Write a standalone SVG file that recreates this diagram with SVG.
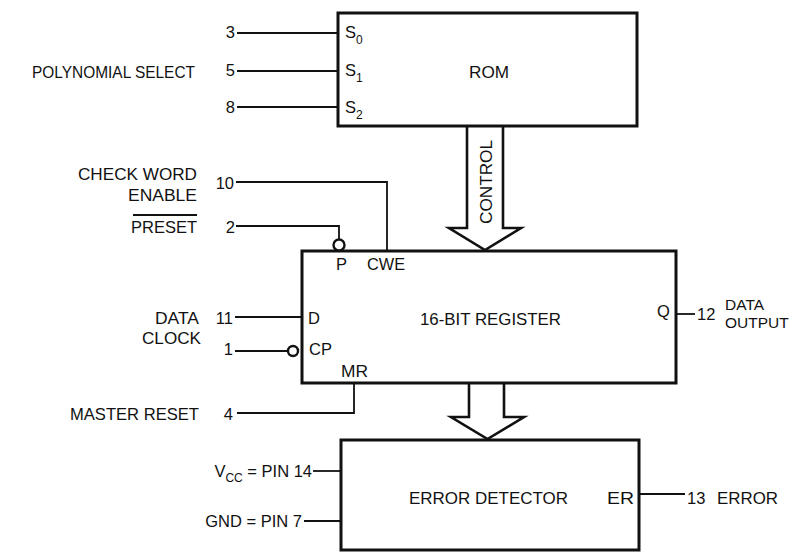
<svg xmlns="http://www.w3.org/2000/svg" width="798" height="552" viewBox="0 0 798 552">
<style>
text{font-family:"Liberation Sans",Arial,Helvetica,sans-serif;font-size:16.5px;fill:#111}
.box{fill:#fff;stroke:#111;stroke-width:3}
.w{fill:none;stroke:#111;stroke-width:1.8}
.bus{fill:#fff;stroke:#111;stroke-width:2.6;stroke-linejoin:miter}
.bub{fill:#fff;stroke:#111;stroke-width:2.4}
.sub{font-size:12px}
.sm{font-size:15.5px}
.e{text-anchor:end}
.m{text-anchor:middle}
</style>
<rect width="798" height="552" fill="#fff"/>

<g id="connectors">
  <path class="w" d="M237 33H338M237 71H338M237 107H338"/>
  <path class="w" d="M236 182H387V251"/>
  <path class="w" d="M236 226H339V239.5"/>
  <path class="w" d="M235 317H302"/>
  <path class="w" d="M235 351H288"/>
  <path class="w" d="M354 383V413H237"/>
  <path class="w" d="M677 314H695"/>
  <path class="w" d="M313 471H341"/>
  <path class="w" d="M304 521H341"/>
  <path class="w" d="M639 494H685"/>
  <path id="control-bus" class="bus" d="M467 126V228H449L485 250L521 228H503V126"/>
  <text transform="translate(492,182) rotate(-90)" class="m" textLength="84" lengthAdjust="spacingAndGlyphs">CONTROL</text>
  <path id="data-bus" class="bus" d="M469 383V417H451L487.5 439L524 417H504V383"/>
</g>

<g id="rom">
  <rect class="box" x="338" y="13" width="299" height="113"/>
  <text x="345" y="38">S<tspan class="sub" dy="6">0</tspan></text>
  <text x="345" y="76">S<tspan class="sub" dy="6">1</tspan></text>
  <text x="345" y="113">S<tspan class="sub" dy="6">2</tspan></text>
  <text x="489" y="78" class="m" textLength="40" lengthAdjust="spacingAndGlyphs">ROM</text>
</g>

<g id="register">
  <rect class="box" x="302" y="251" width="374" height="132"/>
  <circle class="bub" cx="339" cy="245" r="5.5"/>
  <circle class="bub" cx="293" cy="351" r="5"/>
  <text x="336" y="270">P</text>
  <text x="367" y="270" textLength="38" lengthAdjust="spacingAndGlyphs">CWE</text>
  <text x="308" y="324">D</text>
  <text x="309" y="355">CP</text>
  <text x="341" y="377" textLength="27" lengthAdjust="spacingAndGlyphs">MR</text>
  <text x="420" y="325" textLength="141" lengthAdjust="spacingAndGlyphs">16-BIT REGISTER</text>
  <text x="657" y="317">Q</text>
</g>

<g id="error-detector">
  <rect class="box" x="341" y="440" width="298" height="110"/>
  <text x="409" y="504" textLength="159" lengthAdjust="spacingAndGlyphs">ERROR DETECTOR</text>
  <text x="607" y="504" textLength="27" lengthAdjust="spacingAndGlyphs">ER</text>
</g>

<g id="pin-labels">
  <text x="235" y="38" class="e">3</text>
  <text x="235" y="76" class="e">5</text>
  <text x="235" y="113" class="e">8</text>
  <text x="195" y="78" class="e" textLength="163" lengthAdjust="spacingAndGlyphs">POLYNOMIAL SELECT</text>

  <text x="234" y="189" class="e">10</text>
  <text x="197" y="180" class="e" textLength="119" lengthAdjust="spacingAndGlyphs">CHECK WORD</text>
  <text x="197" y="201" class="e" textLength="69" lengthAdjust="spacingAndGlyphs">ENABLE</text>

  <text x="235" y="233" class="e">2</text>
  <text x="197" y="233" class="e" textLength="66" lengthAdjust="spacingAndGlyphs">PRESET</text>
  <path class="w" d="M133 215H197" stroke-width="1.5"/>

  <text x="233" y="324" class="e">11</text>
  <text x="199" y="324" class="e" textLength="44" lengthAdjust="spacingAndGlyphs">DATA</text>
  <text x="233" y="355" class="e">1</text>
  <text x="201" y="344" class="e" textLength="59" lengthAdjust="spacingAndGlyphs">CLOCK</text>

  <text x="233" y="420" class="e">4</text>
  <text x="199" y="420" class="e" textLength="129" lengthAdjust="spacingAndGlyphs">MASTER RESET</text>

  <text x="697" y="320">12</text>
  <text x="725" y="310" class="sm">DATA</text>
  <text x="725" y="328" class="sm">OUTPUT</text>

  <text x="312" y="477" class="e">V<tspan class="sub" dy="5">CC</tspan><tspan dy="-5"> = PIN 14</tspan></text>
  <text x="302" y="527" class="e">GND = PIN 7</text>

  <text x="687" y="504">13</text>
  <text x="717" y="504" textLength="61" lengthAdjust="spacingAndGlyphs">ERROR</text>
</g>
</svg>
